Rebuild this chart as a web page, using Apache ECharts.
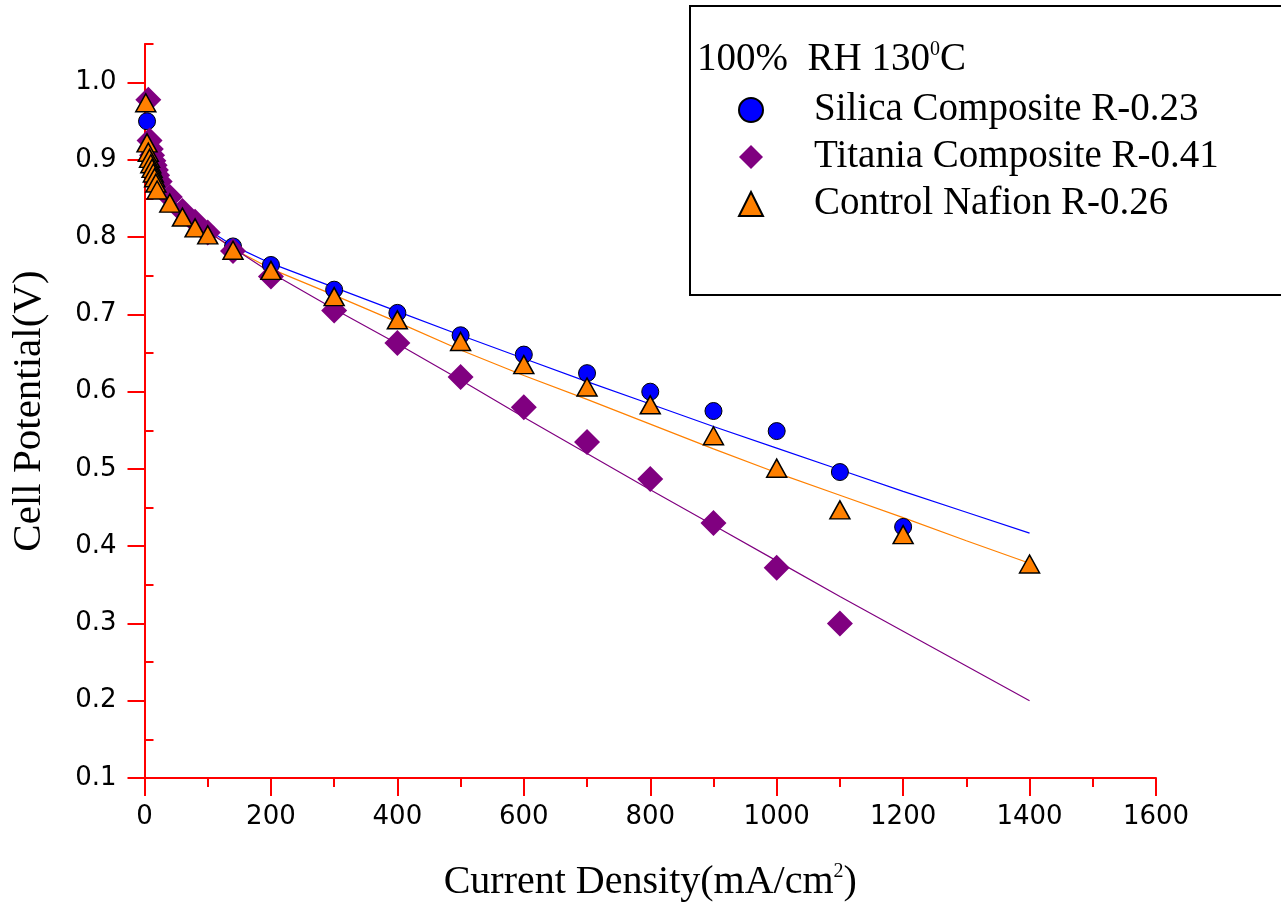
<!DOCTYPE html>
<html>
<head>
<meta charset="utf-8">
<script src="https://cdn.jsdelivr.net/npm/echarts@6.0.0/dist/echarts.min.js"></script>
<style>
  html, body { margin: 0; padding: 0; background: #fff; }
  #chart { width: 1281px; height: 902px; }
</style>
</head>
<body>
<div id="chart"></div>
<script>
const silicaX = [4, 100, 140, 200, 300, 400, 500, 600, 700, 800, 900, 1000, 1100, 1200]
const silicaY = [0.950, 0.806, 0.788, 0.764, 0.732, 0.702, 0.673, 0.648, 0.624, 0.600, 0.575, 0.549, 0.496, 0.425]

const titaniaX = [6, 8, 10, 12, 14, 16, 18, 20, 24, 40, 60, 80, 100, 140, 200, 300, 400, 500, 600, 700, 800, 900, 1000, 1100]
const titaniaY = [0.978, 0.925, 0.914, 0.906, 0.899, 0.893, 0.887, 0.880, 0.872, 0.852, 0.834, 0.820, 0.806, 0.782, 0.749, 0.705, 0.663, 0.619, 0.580, 0.535, 0.487, 0.430, 0.372, 0.300]

const nafionX = [2, 4, 6, 8, 10, 12, 14, 16, 18, 20, 40, 60, 80, 100, 140, 200, 300, 400, 500, 600, 700, 800, 900, 1000, 1100, 1200, 1400]
const nafionY = [0.974, 0.922, 0.910, 0.902, 0.895, 0.889, 0.883, 0.877, 0.870, 0.861, 0.844, 0.826, 0.812, 0.803, 0.783, 0.757, 0.723, 0.693, 0.665, 0.635, 0.606, 0.583, 0.543, 0.501, 0.447, 0.415, 0.377]

// fitted curves
const fitX = [10, 20, 40, 60, 100, 140, 200, 300, 400, 500, 600, 700, 800, 900, 1000, 1100, 1200, 1300, 1400]
const silicaFit = [0.890, 0.872, 0.852, 0.836, 0.810, 0.789, 0.766, 0.735, 0.704, 0.673, 0.643, 0.613, 0.584, 0.555, 0.527, 0.499, 0.471, 0.444, 0.417]
const titaniaFit = [0.890, 0.872, 0.851, 0.834, 0.807, 0.786, 0.754, 0.707, 0.662, 0.615, 0.567, 0.520, 0.473, 0.427, 0.381, 0.335, 0.290, 0.245, 0.200]
const nafionFit = [0.889, 0.871, 0.851, 0.834, 0.808, 0.785, 0.759, 0.725, 0.690, 0.654, 0.621, 0.590, 0.558, 0.526, 0.495, 0.466, 0.437, 0.407, 0.378]

const seriesNames = ['Silica Composite R-0.23', 'Titania Composite R-0.41', 'Control Nafion R-0.26']
const yMajor = [0.1, 0.2, 0.3, 0.4, 0.5, 0.6, 0.7, 0.8, 0.9, 1.0]
const yMinor = [0.15, 0.25, 0.35, 0.45, 0.55, 0.65, 0.75, 0.85, 0.95, 1.05]

const zip = (xs, ys) => xs.map((x, i) => [x, ys[i]])

const serif = 'Liberation Serif'
const sans = 'DejaVu Sans'
const red = '#FF0000'

const chart = echarts.init(document.getElementById('chart'))

const fitLine = (data, color) => ({
  type: 'line',
  data: data,
  showSymbol: false,
  symbol: 'none',
  silent: true,
  lineStyle: { color: color, width: 1.2 },
  z: 1
})

const supStyle = { fontFamily: serif, fontSize: 20, lineHeight: 20, verticalAlign: 'top', color: '#000' }

const option = {
  animation: false,
  backgroundColor: '#fff',
  title: {
    text: '100%  RH 130{sup|0}C',
    left: 697,
    top: 40,
    padding: 0,
    textStyle: {
      fontFamily: serif,
      fontSize: 39,
      fontWeight: 'normal',
      color: '#000',
      lineHeight: 40,
      rich: { sup: supStyle }
    }
  },
  legend: {
    data: seriesNames,
    orient: 'vertical',
    left: 738,
    top: 89,
    padding: 0,
    itemWidth: 24,
    itemHeight: 24,
    itemGap: 5,
    selectedMode: false,
    textStyle: {
      fontFamily: serif,
      fontSize: 39,
      color: '#000',
      lineHeight: 42,
      padding: [0, 0, 0, 46]
    }
  },
  graphic: [
    {
      type: 'rect',
      shape: { x: 690, y: 6, width: 620, height: 289 },
      style: { fill: 'transparent', stroke: '#000', lineWidth: 2 },
      silent: true
    }
  ],
  grid: { left: 144.5, right: 125, top: 44, bottom: 124, containLabel: false, outerBoundsMode: 'none' },
  xAxis: {
    type: 'value',
    min: 0,
    max: 1600,
    interval: 200,
    name: 'Current Density(mA/cm{sup|2})',
    nameLocation: 'middle',
    nameGap: 84,
    nameTextStyle: {
      fontFamily: serif,
      fontSize: 40,
      color: '#000',
      lineHeight: 40,
      rich: { sup: supStyle }
    },
    axisLine: { onZero: false, lineStyle: { color: red, width: 2 } },
    axisTick: { length: 18, lineStyle: { color: red, width: 2 } },
    minorTick: { show: true, splitNumber: 2, length: 9, lineStyle: { color: red, width: 2 } },
    splitLine: { show: false },
    axisLabel: { fontFamily: sans, fontSize: 26, color: '#000', margin: 26, formatter: v => String(v) }
  },
  yAxis: [
    {
      type: 'value',
      min: 0.1,
      max: 1.05,
      name: 'Cell Potential(V)',
      nameLocation: 'middle',
      nameGap: 95,
      nameTextStyle: { fontFamily: serif, fontSize: 41, color: '#000' },
      axisLine: { onZero: false, lineStyle: { color: red, width: 2 } },
      axisTick: { length: 17, customValues: yMajor, lineStyle: { color: red, width: 2 } },
      splitLine: { show: false },
      axisLabel: {
        customValues: yMajor,
        fontFamily: sans,
        fontSize: 26,
        color: '#000',
        margin: 28,
        formatter: v => v.toFixed(1)
      }
    },
    {
      type: 'value',
      min: 0.1,
      max: 1.05,
      axisLine: { show: false },
      axisTick: { length: 9, customValues: yMinor, lineStyle: { color: red, width: 2 } },
      axisLabel: { show: false },
      splitLine: { show: false }
    }
  ],
  series: [
    fitLine(zip(fitX, silicaFit), '#0000FF'),
    fitLine(zip(fitX, nafionFit), '#FF8000'),
    fitLine(zip(fitX, titaniaFit), '#800080'),
    {
      name: seriesNames[0],
      type: 'scatter',
      data: zip(silicaX, silicaY),
      symbol: 'circle',
      symbolSize: 17,
      itemStyle: { color: '#0000FF', borderColor: '#000', borderWidth: 1, opacity: 1 },
      z: 2
    },
    {
      name: seriesNames[1],
      type: 'scatter',
      data: zip(titaniaX, titaniaY),
      symbol: 'diamond',
      symbolSize: [26, 26],
      itemStyle: { color: '#800080', opacity: 1 },
      z: 3
    },
    {
      name: seriesNames[2],
      type: 'scatter',
      data: zip(nafionX, nafionY),
      symbol: 'triangle',
      symbolSize: [20, 18],
      itemStyle: { color: '#FF8000', borderColor: '#000', borderWidth: 1.5, opacity: 1 },
      z: 4
    }
  ]
}

chart.setOption(option)
</script>
</body>
</html>
